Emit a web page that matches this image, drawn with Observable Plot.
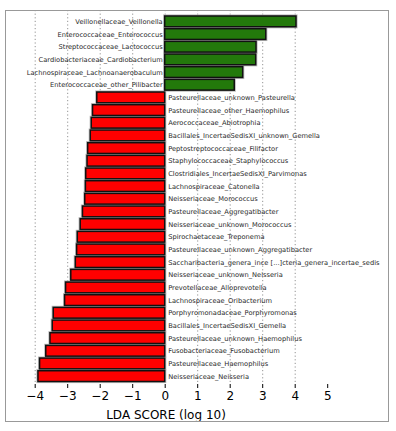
<!DOCTYPE html>
<html>
<head>
<meta charset="utf-8">
<script src="https://cdn.jsdelivr.net/npm/d3@7"></script>
<script src="https://cdn.jsdelivr.net/npm/@observablehq/plot@0.6"></script>
<style>
  html, body { margin: 0; padding: 0; background: #fff; }
  #wrap { position: relative; width: 396px; height: 431px; }
  #border { position: absolute; left: 5px; top: 10px; width: 382px; height: 410px; border: 1px solid #999; pointer-events: none; }
  svg { display: block; }
</style>
</head>
<body>
<div id="wrap"><div id="chart"></div><div id="border"></div></div>
<script>
const taxa = [
  "Veillonellaceae_Veillonella",
  "Enterococcaceae_Enterococcus",
  "Streptococcaceae_Lactococcus",
  "Cardiobacteriaceae_Cardiobacterium",
  "Lachnospiraceae_Lachnoanaerobaculum",
  "Enterococcaceae_other_Pilibacter",
  "Pasteurellaceae_unknown_Pasteurella",
  "Pasteurellaceae_other_Haemophilus",
  "Aerococcaceae_Abiotrophia",
  "Bacillales_IncertaeSedisXI_unknown_Gemella",
  "Peptostreptococcaceae_Filifactor",
  "Staphylococcaceae_Staphylococcus",
  "Clostridiales_IncertaeSedisXI_Parvimonas",
  "Lachnospiraceae_Catonella",
  "Neisseriaceae_Morococcus",
  "Pasteurellaceae_Aggregatibacter",
  "Neisseriaceae_unknown_Morococcus",
  "Spirochaetaceae_Treponema",
  "Pasteurellaceae_unknown_Aggregatibacter",
  "Saccharibacteria_genera_ince [...]cteria_genera_incertae_sedis",
  "Neisseriaceae_unknown_Neisseria",
  "Prevotellaceae_Alloprevotella",
  "Lachnospiraceae_Oribacterium",
  "Porphyromonadaceae_Porphyromonas",
  "Bacillales_IncertaeSedisXI_Gemella",
  "Pasteurellaceae_unknown_Haemophilus",
  "Fusobacteriaceae_Fusobacterium",
  "Pasteurellaceae_Haemophilus",
  "Neisseriaceae_Neisseria"
];
const ldaScores = [
  4.04, 3.11, 2.81, 2.80, 2.40, 2.14,
  -2.09, -2.22, -2.26, -2.29, -2.37, -2.39, -2.43, -2.44, -2.46,
  -2.53, -2.60, -2.69, -2.71, -2.75, -2.89, -3.05, -3.08,
  -3.43, -3.46, -3.53, -3.66, -3.85, -3.90
];
const xTicks = [-4, -3, -2, -1, 0, 1, 2, 3, 4, 5];
const axisTitle = "LDA SCORE (log 10)";
const posColor = "#23790b";
const negColor = "#ff0000";

const data = taxa.map((t, i) => ({taxon: t, lda: ldaScores[i]}));
const pos = data.filter(d => d.lda > 0);
const neg = data.filter(d => d.lda < 0);

const chart = Plot.plot({
  width: 396,
  height: 431,
  marginTop: 10,
  marginBottom: 47,
  marginLeft: 5,
  marginRight: 70,
  style: {fontFamily: "DejaVu Sans", background: "#fff"},
  x: {domain: [-4, 5], range: [34.7, 327.2], ticks: xTicks, label: null},
  y: {domain: taxa, range: [14.1, 383.4], padding: 0.15, round: false, axis: null},
  marks: [
    Plot.gridX(xTicks.slice(0, -1), {stroke: "#777", strokeOpacity: 1, strokeDasharray: "1.2,2.4", strokeWidth: 0.8}),
    Plot.barX(data, {x1: 0, x2: "lda", y: "taxon", fill: "none", stroke: "#bbb", strokeWidth: 3.2}),
    Plot.barX(data, {x1: 0, x2: "lda", y: "taxon", fill: d => d.lda > 0 ? posColor : negColor, stroke: "#111", strokeWidth: 1.5}),
    Plot.text(pos, {x: 0, y: "taxon", text: "taxon", textAnchor: "end", dx: -2.5, fontSize: 6.7, fill: "#2a2a2a"}),
    Plot.text(neg, {x: 0, y: "taxon", text: "taxon", textAnchor: "start", dx: 3, fontSize: 6.7, fill: "#2a2a2a"}),
    Plot.axisX({ticks: xTicks, tickSize: 4, tickPadding: 3, fontSize: 12, tickFormat: d => d < 0 ? "\u2212" + Math.abs(d) : String(d), label: axisTitle, labelAnchor: "center", labelArrow: "none", labelOffset: 34, stroke: "#000", color: "#000"}),
    Plot.frame({anchor: "top", stroke: "#555", strokeWidth: 1})
  ]
});
document.getElementById("chart").appendChild(chart);
d3.select(chart).selectAll("[aria-label='x-axis label'] text").style("font-size", "12px");
</script>
</body>
</html>
